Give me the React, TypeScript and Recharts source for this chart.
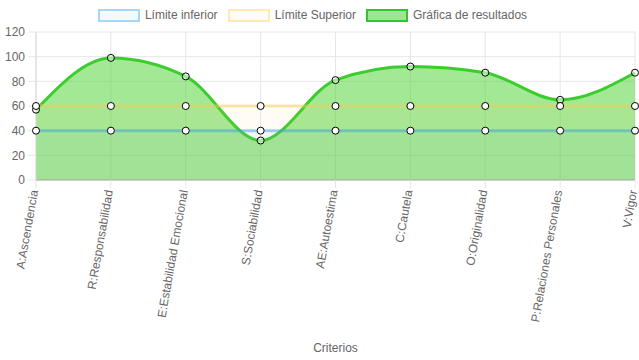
import { AreaChart, Area, XAxis, YAxis, CartesianGrid, Legend } from 'recharts'

const categories = [
  'A:Ascendencia',
  'R:Responsabilidad',
  'E:Estabilidad Emocional',
  'S:Sociabilidad',
  'AE:Autoestima',
  'C:Cautela',
  'O:Originalidad',
  'P:Relaciones Personales',
  'V:Vigor',
]
const limiteInferior = [40, 40, 40, 40, 40, 40, 40, 40, 40]
const limiteSuperior = [60, 60, 60, 60, 60, 60, 60, 60, 60]
const resultados = [57, 99, 84, 32, 81, 92, 87, 65, 87]
const yTicks = [0, 20, 40, 60, 80, 100, 120]

const data = categories.map((name, i) => ({
  name,
  inferior: limiteInferior[i],
  superior: limiteSuperior[i],
  resultados: resultados[i],
}))

const FONT = "'Helvetica Neue', Helvetica, Arial, 'Liberation Sans', sans-serif"

const legendItems = [
  { label: 'Límite inferior', border: 'rgba(54,162,235,0.4)', fill: 'rgba(54,162,235,0.06)' },
  { label: 'Límite Superior', border: 'rgba(255,206,86,0.4)', fill: 'rgba(255,206,86,0.06)' },
  { label: 'Gráfica de resultados', border: '#33c433', fill: 'rgba(60,205,40,0.5)' },
]

function LegendContent() {
  return (
    <div style={{ height: 32, display: 'flex', justifyContent: 'center', alignItems: 'flex-start', paddingTop: 8, boxSizing: 'border-box', fontFamily: FONT, fontSize: 12, color: '#666' }}>
      {legendItems.map((it) => (
        <div key={it.label} style={{ display: 'flex', alignItems: 'center', marginRight: 10 }}>
          <span style={{ display: 'inline-block', width: 38, height: 9, border: `2px solid ${it.border}`, background: it.fill, marginRight: 5 }} />
          <span>{it.label}</span>
        </div>
      ))}
    </div>
  )
}

function XTick(props: any) {
  const { x, y, payload } = props
  return (
    <text
      x={x - 2}
      y={y}
      transform={`rotate(-80, ${x - 2}, ${y})`}
      textAnchor="end"
      dy="0.35em"
      fill="#666"
      fontSize={12}
      fontFamily={FONT}
    >
      {payload.value}
    </text>
  )
}

export default function App() {
  return (
    <div style={{ position: 'absolute', left: 0, top: 0, width: 639, height: 360, background: '#fff' }}>
      <AreaChart width={639} height={360} data={data} margin={{ top: 0, right: 4, left: 0, bottom: 0 }}>
        <Legend verticalAlign="top" align="center" content={<LegendContent />} />
        <CartesianGrid stroke="#e6e6e6" />
        <XAxis
          dataKey="name"
          height={180}
          interval={0}
          tick={<XTick />}
          tickSize={8}
          tickLine={{ stroke: '#e6e6e6' }}
          axisLine={{ stroke: '#aaa' }}
          label={{ value: 'Criterios', position: 'insideBottom', offset: 8, fill: '#666', fontSize: 12, fontFamily: FONT }}
        />
        <YAxis
          width={36}
          domain={[0, 120]}
          ticks={yTicks}
          tickSize={8}
          tickMargin={3}
          tickLine={{ stroke: '#e6e6e6' }}
          axisLine={{ stroke: '#d9d9d9' }}
          tick={{ fill: '#666', fontSize: 12, fontFamily: FONT }}
        />
        <Area
          type="monotone"
          dataKey="resultados"
          stroke="#3ccc2e"
          strokeWidth={3}
          fill="#47d12b"
          fillOpacity={0.5}
          dot={{ r: 3.5, fill: '#fff', stroke: '#000', strokeWidth: 1 }}
          activeDot={false}
          isAnimationActive={false}
        />
        <Area
          type="monotone"
          dataKey="superior"
          stroke="rgba(255,206,86,0.45)"
          strokeWidth={3}
          fill="rgba(255,206,86,0.06)"
          fillOpacity={1}
          dot={{ r: 3.5, fill: '#fff', stroke: '#000', strokeWidth: 1 }}
          activeDot={false}
          isAnimationActive={false}
        />
        <Area
          type="monotone"
          dataKey="inferior"
          stroke="rgba(54,162,235,0.45)"
          strokeWidth={3}
          fill="rgba(54,162,235,0.06)"
          fillOpacity={1}
          dot={{ r: 3.5, fill: '#fff', stroke: '#000', strokeWidth: 1 }}
          activeDot={false}
          isAnimationActive={false}
        />
      </AreaChart>
    </div>
  )
}
